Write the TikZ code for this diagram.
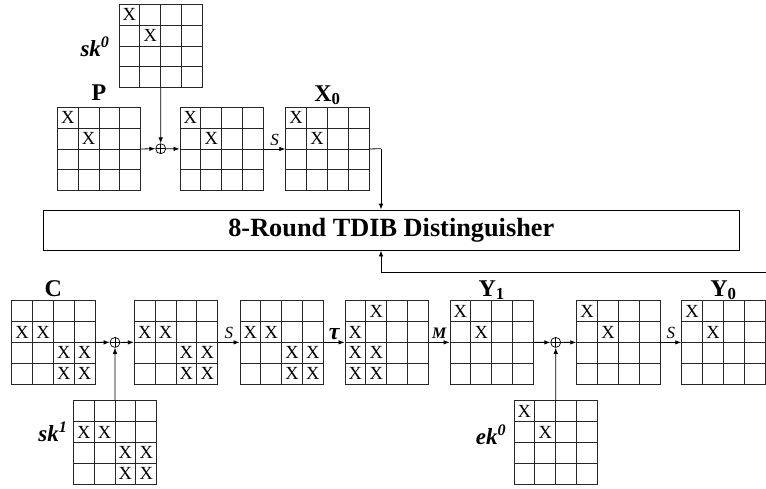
\documentclass[tikz,border=0pt]{standalone}
\usepackage{fontspec}
\setmainfont{Liberation Serif}
\usetikzlibrary{arrows.meta,calc}
\newcommand\mkgrid[4]{%
  \node[gridbox] (#1) at ({#2+41.667},{#3+41.667}) {};
  \foreach \k in {1,2,3}{%
    \draw[gridline] ({#2+\k*20.833},#3) -- ({#2+\k*20.833},{#3+83.333});
    \draw[gridline] (#2,{#3+\k*20.833}) -- ({#2+83.333},{#3+\k*20.833});
  }%
  \foreach \r/\c in {#4}{\node[xmark] (#1x\r\c) at ({#2+\c*20.833-10.417},{#3+\r*20.833-10.417}) {X};}%
}
\begin{document}
\begin{tikzpicture}[x=1pt,y=-1pt,
  gridbox/.style={draw=black!85,line width=0.9pt,rectangle,minimum size=83.333pt,inner sep=0pt},
  gridline/.style={draw=black!85,line width=0.9pt},
  xmark/.style={inner sep=0pt,font=\fontsize{18.5}{19}\selectfont},
  xorc/.style={circle,draw,line width=0.7pt,minimum size=10pt,inner sep=0pt,
    path picture={\draw[line width=0.7pt] (path picture bounding box.north) -- (path picture bounding box.south)
      (path picture bounding box.west) -- (path picture bounding box.east);}},
  arr/.style={draw,line width=0.8pt,-{Latex[length=6pt,width=4.5pt]}},
  plain/.style={draw,line width=0.8pt},
  lbl/.style={inner sep=0pt,font=\bfseries\fontsize{24}{26}\selectfont},
  klbl/.style={inner sep=0pt,font=\bfseries\itshape\fontsize{23}{24}\selectfont},
  albl/.style={above,inner sep=3pt,font=\itshape\fontsize{17}{17}\selectfont},
  blbl/.style={above,inner sep=3pt,font=\bfseries\itshape\fontsize{16}{16}\selectfont}
]
\useasboundingbox (0,0) rectangle (766,488);
% top row
\mkgrid{skz}{119}{4.3}{1/1,2/2}
\mkgrid{P}{57.3}{107.3}{1/1,2/2}
\mkgrid{gtwo}{180}{107.3}{1/1,2/2}
\mkgrid{Xz}{285.7}{107.3}{1/1,2/2}
\node[klbl] (skzl) at (95,47) {sk\textsuperscript{0}};
\node[lbl,anchor=base] (Pl) at (99,100.5) {P};
\node[lbl,anchor=base] (Xzl) at (327.4,101) {X\textsubscript{0}};
\node[xorc] (xa) at (160.7,148.7) {};
\draw[arr] (P.east) -- (xa.west);
\draw[arr] (skz.south) -- (xa.north);
\draw[arr] (xa.east) -- (gtwo.west);
\draw[arr] (gtwo.east) -- node[albl]{S} (Xz.west);
% distinguisher
\node[draw,line width=0.8pt,minimum width=696pt,minimum height=40pt,inner sep=0pt,
  font=\bfseries\fontsize{26.3}{28}\selectfont] (box) at (391.3,230) {8-Round TDIB Distinguisher};
\coordinate (ja) at (381,148.7);
\coordinate (fb) at (766,272.7);
\draw[plain] (Xz.east) -- (ja);
\draw[arr] (ja) -- (ja |- box.north);
\draw[arr] (fb) -| (ja |- box.south);
% bottom row
\mkgrid{C}{11.7}{300.7}{2/1,2/2,3/3,3/4,4/3,4/4}
\mkgrid{btwo}{134.3}{300.7}{2/1,2/2,3/3,3/4,4/3,4/4}
\mkgrid{bthree}{240}{300.7}{2/1,2/2,3/3,3/4,4/3,4/4}
\mkgrid{bfour}{345}{300.7}{1/2,2/1,3/1,3/2,4/1,4/2}
\mkgrid{Yo}{450}{300.7}{1/1,2/2}
\mkgrid{bsix}{576.7}{300.7}{1/1,2/2}
\mkgrid{Yz}{681.7}{300.7}{1/1,2/2}
\mkgrid{sko}{73.3}{400.7}{2/1,2/2,3/3,3/4,4/3,4/4}
\mkgrid{ekz}{514}{400.7}{1/1,2/2}
\node[lbl,anchor=base] (Cl) at (53.4,296) {C};
\node[lbl,anchor=base] (Yol) at (491.7,296) {Y\textsubscript{1}};
\node[lbl,anchor=base] (Yzl) at (723.4,296) {Y\textsubscript{0}};
\node[klbl] (skol) at (53,431.7) {sk\textsuperscript{1}};
\node[klbl] (ekzl) at (491,435) {ek\textsuperscript{0}};
\node[xorc] (xb) at (115,342.4) {};
\node[xorc] (xc) at (555.7,342.4) {};
\draw[arr] (C.east) -- (xb.west);
\draw[arr] (sko.north) -- (xb.south);
\draw[arr] (xb.east) -- (btwo.west);
\draw[arr] (btwo.east) -- node[albl]{S} (bthree.west);
\draw[arr] (bthree.east) -- node[blbl,inner sep=2pt,font=\bfseries\itshape\fontsize{24}{24}\selectfont]{τ} (bfour.west);
\draw[arr] (bfour.east) -- node[blbl]{M} (Yo.west);
\draw[arr] (Yo.east) -- (xc.west);
\draw[arr] (ekz.north) -- (xc.south);
\draw[arr] (xc.east) -- (bsix.west);
\draw[arr] (bsix.east) -- node[albl]{S} (Yz.west);
\end{tikzpicture}
\end{document}
